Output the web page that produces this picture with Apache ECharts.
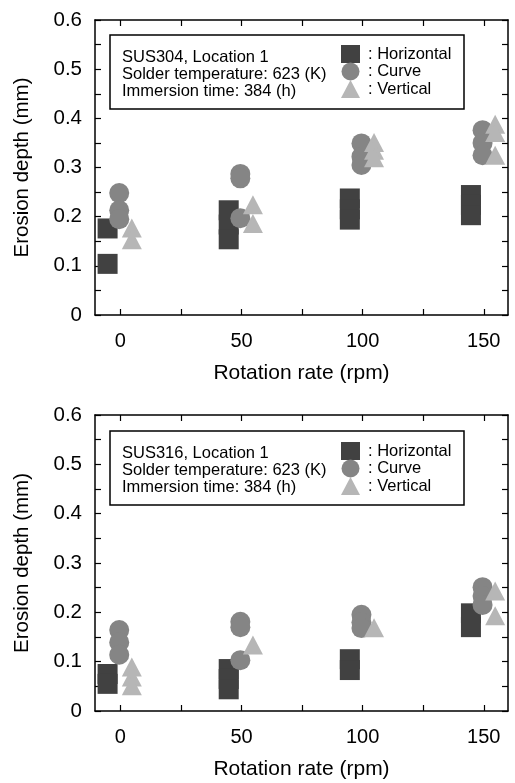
<!DOCTYPE html>
<html>
<head>
<meta charset="utf-8">
<script src="https://cdn.jsdelivr.net/npm/echarts@6/dist/echarts.min.js"></script>
<style>
html,body{margin:0;padding:0;background:#fff;}
#c{width:515px;height:783px;}
</style>
</head>
<body>
<div id="c"></div>
<script>
// Rotation rates (rpm)
const rpm = [0, 50, 100, 150];
const xTicks = [0, 25, 50, 75, 100, 125, 150];
const xLabels = [0, 50, 100, 150];

// Top chart: SUS304 — erosion depth (mm), measurements per rotation rate
const sus304Horizontal = [[0.176, 0.104], [0.213, 0.184, 0.154], [0.237, 0.215, 0.194], [0.244, 0.224, 0.203]];
const sus304Curve      = [[0.248, 0.213, 0.195], [0.287, 0.278, 0.197], [0.349, 0.322, 0.305], [0.376, 0.350, 0.325]];
const sus304Vertical   = [[0.177, 0.153], [0.224, 0.186], [0.351, 0.335, 0.320], [0.388, 0.371, 0.325]];

// Bottom chart: SUS316
const sus316Horizontal = [[0.075, 0.055], [0.085, 0.065, 0.044], [0.105, 0.083], [0.198, 0.170]];
const sus316Curve      = [[0.164, 0.139, 0.114], [0.181, 0.170, 0.103], [0.195, 0.180, 0.168], [0.251, 0.233, 0.215]];
const sus316Vertical   = [[0.089, 0.069, 0.051], [0.134], [0.169], [0.243, 0.193]];

const infoTop = ['SUS304, Location 1', 'Solder temperature: 623 (K)', 'Immersion time: 384 (h)'];
const infoBottom = ['SUS316, Location 1', 'Solder temperature: 623 (K)', 'Immersion time: 384 (h)'];
const seriesNames = ['Horizontal', 'Curve', 'Vertical'];

const FONT = "'Liberation Sans', Arial, Helvetica, sans-serif";
const colors = {Horizontal: '#414141', Curve: '#858585', Vertical: '#b6b6b6'};
const symbols = {Horizontal: 'rect', Curve: 'circle', Vertical: 'triangle'};
const sizes = {Horizontal: [20, 20], Curve: 20, Vertical: [20, 19]};
const offsets = {Horizontal: -5.3, Curve: -0.5, Vertical: 4.7};

function pts(arr, name) {
  const out = [];
  arr.forEach((vals, i) => vals.forEach(v => out.push([rpm[i] + offsets[name], v])));
  return out;
}

const axisLine = {show: true, onZero: false, lineStyle: {color: '#000', width: 1.5}};
function xAxes(grid) {
  const base = {
    gridIndex: grid, type: 'value', min: -10.5, max: 160,
    axisLine: axisLine, splitLine: {show: false},
    axisTick: {show: true, inside: true, length: 6, customValues: xTicks, lineStyle: {color: '#000', width: 1.2}}
  };
  return [
    Object.assign({}, base, {
      position: 'bottom',
      axisLabel: {show: true, customValues: xLabels, fontSize: 20, color: '#000', fontFamily: FONT, margin: 16},
      name: 'Rotation rate (rpm)', nameLocation: 'middle', nameGap: 48,
      nameTextStyle: {fontSize: 21, color: '#000', fontFamily: FONT}
    }),
    Object.assign({}, base, {position: 'top', axisLabel: {show: false}})
  ];
}
function yAxes(grid) {
  const base = {
    gridIndex: grid, type: 'value', min: 0, max: 0.6, interval: 0.1,
    axisLine: axisLine, splitLine: {show: false},
    axisTick: {show: true, inside: true, length: 6, lineStyle: {color: '#000', width: 1.2}},
    minorTick: {show: true, splitNumber: 2, length: 6, lineStyle: {color: '#000', width: 1.2}},
    minorSplitLine: {show: false}
  };
  return [
    Object.assign({}, base, {
      position: 'left',
      axisLabel: {show: true, fontSize: 20.5, color: '#000', fontFamily: FONT, margin: 13,
        formatter: v => (v === 0 ? '0' : v.toFixed(1))},
      name: 'Erosion depth (mm)', nameLocation: 'middle', nameGap: 62,
      nameTextStyle: {fontSize: 20.5, color: '#000', fontFamily: FONT}
    }),
    Object.assign({}, base, {position: 'right', axisLabel: {show: false}})
  ];
}

function makeSeries(grid, data) {
  return seriesNames.map((name, k) => ({
    type: 'scatter', name: name,
    xAxisIndex: grid * 2, yAxisIndex: grid * 2,
    symbol: symbols[name], symbolSize: sizes[name],
    itemStyle: {color: colors[name], opacity: 1},
    emphasis: {disabled: true},
    z: 2 + k,
    data: pts(data[k], name)
  }));
}

function legendAt(top) {
  return {
    orient: 'vertical', left: 341, top: top, itemWidth: 19, itemHeight: 18, itemGap: -0.5,
    selectedMode: false, padding: 0, z: 20,
    formatter: n => ': ' + n,
    textStyle: {fontSize: 16.5, color: '#000', fontFamily: FONT, padding: [0, 0, 0, 3]},
    data: seriesNames.map(n => ({name: n, icon: symbols[n], itemStyle: {color: colors[n]}}))
  };
}

function infoBox(y, lines) {
  return [
    {type: 'rect', shape: {x: 110, y: y, width: 354, height: 74}, z: 1,
     style: {fill: '#fff', stroke: '#000', lineWidth: 1.5}},
    {type: 'text', x: 122, y: y + 14.5, z: 2,
     style: {text: lines.join('\n'), font: '16.5px ' + FONT, lineHeight: 16.8, fill: '#000'}}
  ];
}

const chart = echarts.init(document.getElementById('c'), null, {renderer: 'canvas'});
chart.setOption({
  backgroundColor: '#fff',
  animation: false,
  grid: [
    {left: 95, right: 7, top: 20, height: 295},
    {left: 95, right: 7, top: 415, height: 296}
  ],
  xAxis: xAxes(0).concat(xAxes(1)),
  yAxis: yAxes(0).concat(yAxes(1)),
  legend: [legendAt(45), legendAt(442)],
  graphic: infoBox(35, infoTop).concat(infoBox(431, infoBottom)),
  series: makeSeries(0, [sus304Horizontal, sus304Curve, sus304Vertical])
    .concat(makeSeries(1, [sus316Horizontal, sus316Curve, sus316Vertical]))
});
</script>
</body>
</html>
